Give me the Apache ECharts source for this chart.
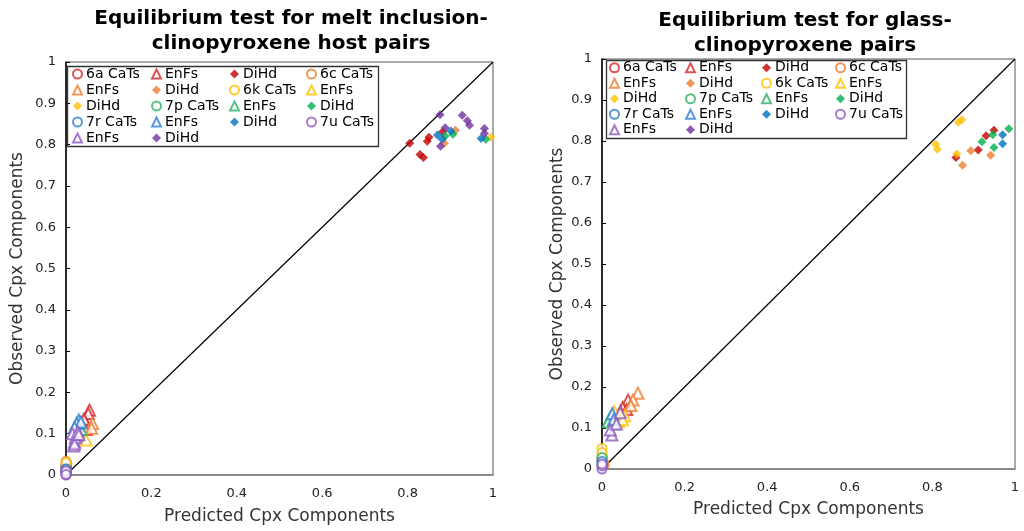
<!DOCTYPE html>
<html>
<head>
<meta charset="utf-8">
<script src="https://cdn.jsdelivr.net/npm/echarts@6/dist/echarts.min.js"></script>
<style>
  html, body { margin: 0; padding: 0; background: #fff; }
  #chart { width: 1024px; height: 531px; }
</style>
</head>
<body>
<div id="chart"></div>
<script>
// Sample names and component labels
const samples = ['6a', '6c', '6k', '7p', '7r', '7u'];
const components = ['CaTs', 'EnFs', 'DiHd'];
const xTicks = [0, 0.2, 0.4, 0.6, 0.8, 1];
const yTicks = [0, 0.1, 0.2, 0.3, 0.4, 0.5, 0.6, 0.7, 0.8, 0.9, 1];

// Melt inclusion – cpx host pairs: [predicted, observed], one list per sample
const miCaTs = [
  [[0, 0.02], [0, 0.015], [0.001, 0.01], [0, 0.025], [0, 0.012], [0.002, 0.018]],
  [[0, 0.033], [0.002, 0.028]],
  [[0, 0.03]],
  [[0, 0.012], [0.001, 0.008], [0, 0.015]],
  [[0, 0.01], [0.001, 0.005], [0, 0.014], [0, 0.008]],
  [[0, 0.0], [0, 0.005], [0.001, 0.002], [0, 0.008], [0, 0.003], [0.001, 0.006], [0, 0.01], [0, 0.001]]
];
const miEnFs = [
  [[0.055, 0.157], [0.052, 0.149], [0.045, 0.128], [0.040, 0.120], [0.048, 0.110], [0.042, 0.135]],
  [[0.062, 0.125], [0.060, 0.113]],
  [[0.047, 0.085]],
  [[0.030, 0.120], [0.035, 0.110], [0.025, 0.100]],
  [[0.030, 0.133], [0.025, 0.125], [0.035, 0.128], [0.020, 0.115]],
  [[0.018, 0.070], [0.020, 0.080], [0.025, 0.095], [0.022, 0.090], [0.015, 0.100], [0.028, 0.105], [0.020, 0.075], [0.030, 0.098]]
];
const miDiHd = [
  [[0.805, 0.803], [0.850, 0.818], [0.846, 0.808], [0.829, 0.776], [0.837, 0.769], [0.882, 0.831]],
  [[0.912, 0.835], [0.886, 0.803]],
  [[0.995, 0.818]],
  [[0.888, 0.821], [0.906, 0.825], [0.983, 0.813]],
  [[0.870, 0.823], [0.881, 0.813], [0.901, 0.833], [0.972, 0.815]],
  [[0.876, 0.872], [0.928, 0.871], [0.940, 0.858], [0.945, 0.847], [0.980, 0.839], [0.980, 0.827], [0.888, 0.841], [0.877, 0.796]]
];

// Glass – cpx pairs: [predicted, observed], one list per sample
const glCaTs = [
  [[0, 0.02], [0.001, 0.015], [0, 0.025], [0, 0.01]],
  [[0.005, 0.01], [0.003, 0.008], [0.004, 0.015]],
  [[0, 0.05], [0, 0.035], [0.001, 0.03], [0, 0.04], [0.002, 0.025]],
  [[0, 0.02], [0.001, 0.015], [0, 0.012], [0, 0.028]],
  [[0, 0.018], [0.001, 0.01]],
  [[0, 0.005], [0, 0.0], [0.001, 0.008], [0, 0.012]]
];
const glEnFs = [
  [[0.063, 0.168], [0.050, 0.150], [0.045, 0.140], [0.060, 0.145]],
  [[0.087, 0.185], [0.075, 0.168], [0.070, 0.155]],
  [[0.055, 0.130], [0.045, 0.125], [0.040, 0.115], [0.030, 0.140], [0.050, 0.120]],
  [[0.020, 0.125], [0.025, 0.130], [0.015, 0.115], [0.030, 0.110]],
  [[0.025, 0.135], [0.028, 0.120]],
  [[0.024, 0.083], [0.044, 0.137], [0.020, 0.095], [0.035, 0.110]]
];
const glDiHd = [
  [[0.930, 0.813], [0.911, 0.778], [0.949, 0.826], [0.857, 0.760]],
  [[0.873, 0.741], [0.893, 0.776], [0.941, 0.765]],
  [[0.863, 0.846], [0.871, 0.852], [0.808, 0.792], [0.812, 0.780], [0.859, 0.768]],
  [[0.920, 0.798], [0.946, 0.815], [0.985, 0.830], [0.949, 0.784]],
  [[0.970, 0.815], [0.970, 0.793]],
  []
];

// 1:1 line
const oneToOne = [[0, 0], [1, 1]];

const outlineColors = ['#D9262B', '#ED7D31', '#FFC000', '#2DB36A', '#2E7FCF', '#8E5BC0'];
const fillColors = ['#C00000', '#ED7D31', '#FFC000', '#00B050', '#0070C0', '#7030A0'];
const FONT = 'DejaVu Sans';

const chartData = [
  [miCaTs, miEnFs, miDiHd],
  [glCaTs, glEnFs, glDiHd]
];

function seriesName(c, s, k) {
  return samples[s] + ' ' + components[k] + (c === 1 ? '\u200b' : '');
}

const series = [];
const legendNames = [[], []];
for (let c = 0; c < 2; c++) {
  series.push({
    type: 'line', xAxisIndex: c, yAxisIndex: c, data: oneToOne,
    showSymbol: false, silent: true, z: 1,
    lineStyle: { color: '#000', width: 1.2 }
  });
  for (let s = 0; s < samples.length; s++) {
    for (let k = 0; k < 3; k++) {
      const name = seriesName(c, s, k);
      legendNames[c].push(name);
      const base = {
        type: 'scatter', name: name, xAxisIndex: c, yAxisIndex: c,
        data: chartData[c][k][s], clip: false
      };
      if (k === 0) {
        Object.assign(base, { symbol: 'emptyCircle', symbolSize: 9,
          itemStyle: { color: outlineColors[s], borderColor: outlineColors[s], borderWidth: 1.3 } });
      } else if (k === 1) {
        Object.assign(base, { symbol: 'emptyTriangle', symbolSize: 11,
          itemStyle: { color: outlineColors[s], borderColor: outlineColors[s], borderWidth: 1.3 } });
      } else {
        Object.assign(base, { symbol: 'diamond', symbolSize: 9,
          itemStyle: { color: fillColors[s] } });
      }
      series.push(base);
    }
  }
}

function legendFormatter(name) {
  const n = name.replace('\u200b', '');
  return n.endsWith('CaTs') ? n : n.split(' ')[1];
}

// four columns per legend block
function legendColumns(c, colX, top, rowH) {
  const out = [];
  for (let j = 0; j < 4; j++) {
    const items = [];
    for (let i = j; i < legendNames[c].length; i += 4) items.push(legendNames[c][i]);
    out.push({
      orient: 'vertical', left: colX[j], top: top, data: items,
      itemWidth: 9, itemHeight: 9, itemGap: 0, padding: 0,
      selectedMode: false, formatter: legendFormatter,
      itemStyle: { borderWidth: 1.2 },
      textStyle: { fontFamily: FONT, fontSize: 14, color: '#000', lineHeight: rowH, padding: [0, 0, 0, -1] }
    });
  }
  return out;
}

const legends = legendColumns(0, [72, 151, 229, 306], 66, 16)
  .concat(legendColumns(1, [609, 685, 761, 835], 60, 15.5));

function xAxis(gridIndex, gap) {
  return {
    type: 'value', gridIndex: gridIndex, min: 0, max: 1, interval: 0.2,
    name: 'Predicted Cpx Components', nameLocation: 'middle', nameGap: gap,
    nameTextStyle: { fontFamily: FONT, fontSize: 17, color: '#333' },
    axisLine: { lineStyle: { color: '#808080', width: 1.5 } },
    axisTick: { show: false },
    splitLine: { show: false },
    axisLabel: { fontFamily: FONT, fontSize: 13, color: '#222', margin: 12,
      formatter: v => xTicks.includes(+v.toFixed(2)) ? String(+v.toFixed(2)) : '' }
  };
}
function yAxis(gridIndex, gap) {
  return {
    type: 'value', gridIndex: gridIndex, min: 0, max: 1, interval: 0.1,
    name: 'Observed Cpx Components', nameLocation: 'middle', nameGap: gap,
    nameTextStyle: { fontFamily: FONT, fontSize: 17, color: '#333' },
    axisLine: { lineStyle: { color: '#000', width: 1.5 } },
    axisTick: { inside: true, length: 4, lineStyle: { color: '#000' } },
    splitLine: { show: false },
    axisLabel: { fontFamily: FONT, fontSize: 13, color: '#222', margin: 10,
      formatter: v => yTicks.includes(+v.toFixed(2)) ? String(+v.toFixed(2)) : '' }
  };
}

const option = {
  animation: false,
  backgroundColor: '#fff',
  title: [
    { text: 'Equilibrium test for melt inclusion-\nclinopyroxene host pairs', left: 286, top: 1, textAlign: 'center',
      textStyle: { fontFamily: FONT, fontSize: 20, fontWeight: 'bold', color: '#000', lineHeight: 25 } },
    { text: 'Equilibrium test for glass-\nclinopyroxene pairs', left: 800, top: 3, textAlign: 'center',
      textStyle: { fontFamily: FONT, fontSize: 20, fontWeight: 'bold', color: '#000', lineHeight: 25 } }
  ],
  grid: [
    { left: 66, width: 427, top: 62, height: 413, show: true, borderColor: '#555', borderWidth: 1, backgroundColor: 'transparent' },
    { left: 602, width: 413, top: 59, height: 410, show: true, borderColor: '#555', borderWidth: 1, backgroundColor: 'transparent' }
  ],
  xAxis: [xAxis(0, 33), xAxis(1, 32)],
  yAxis: [yAxis(0, 40), yAxis(1, 36)],
  legend: legends,
  graphic: [
    { type: 'rect', shape: { x: 67.5, y: 66.5, width: 311, height: 80 }, z: 3,
      style: { fill: 'none', stroke: '#333', lineWidth: 1.3 } },
    { type: 'rect', shape: { x: 606.5, y: 60.5, width: 300, height: 78 }, z: 3,
      style: { fill: 'none', stroke: '#333', lineWidth: 1.3 } }
  ],
  series: series
};

const chart = echarts.init(document.getElementById('chart'), null, { renderer: 'canvas' });
chart.setOption(option);
</script>
</body>
</html>
